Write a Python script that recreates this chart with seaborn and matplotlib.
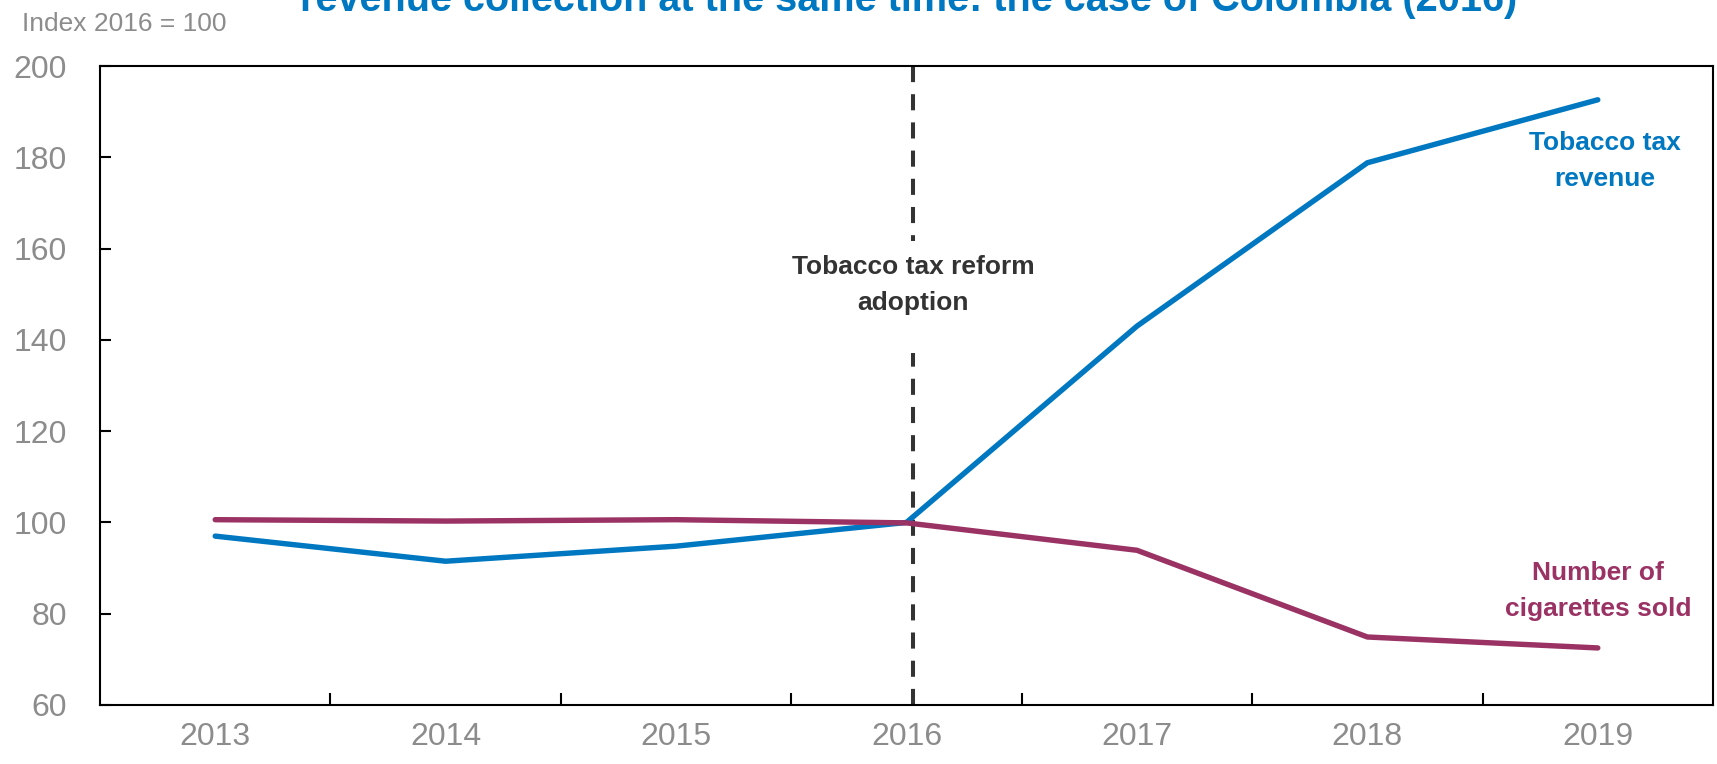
import matplotlib
matplotlib.use("Agg")
import matplotlib.pyplot as plt
import seaborn as sns
import pandas as pd
from matplotlib import font_manager

years = ["2013", "2014", "2015", "2016", "2017", "2018", "2019"]
tax_revenue = [97.0, 91.5, 94.8, 100.0, 143.0, 178.8, 192.6]
cigarettes_sold = [100.6, 100.3, 100.6, 99.9, 93.9, 74.9, 72.5]
series_names = ["Tobacco tax revenue", "Number of cigarettes sold"]
y_ticks = [60, 80, 100, 120, 140, 160, 180, 200]

BLUE = "#0078C1"
PURPLE = "#9A3264"
GRAY = "#8C8C8C"

sns.set_style("ticks")
names = {f.name for f in font_manager.fontManager.ttflist}
fam = ["Liberation Sans Narrow"] if "Liberation Sans Narrow" in names else []
plt.rcParams["font.family"] = fam + ["Liberation Sans", "DejaVu Sans"]

df = pd.DataFrame({
    "year": years * 2,
    "value": tax_revenue + cigarettes_sold,
    "series": [series_names[0]] * len(years) + [series_names[1]] * len(years),
})
df["x"] = df["year"].map({y: i for i, y in enumerate(years)})

fig = plt.figure(figsize=(17.17, 7.64), dpi=100)
ax = fig.add_axes([100 / 1717, 1 - 705 / 764, (1713 - 100) / 1717, (705 - 66) / 764])

sns.lineplot(data=df, x="x", y="value", hue="series", palette=[BLUE, PURPLE],
             linewidth=3.9, ax=ax, legend=False, sort=False)
for line in ax.get_lines():
    line.set_solid_capstyle("round")
    line.set_solid_joinstyle("round")

ax.set_xlim(-0.5, len(years) - 0.5)
ax.set_ylim(60, 200)
ax.set_yticks(y_ticks)
ax.set_yticklabels([str(v) for v in y_ticks])
ax.set_xticks([i + 0.5 for i in range(len(years) - 1)])
ax.set_xticklabels([])
ax.set_xticks(range(len(years)), minor=True)
ax.set_xticklabels(years, minor=True)
ax.tick_params(axis="x", which="major", direction="in", length=9, width=1.5, color="black")
ax.tick_params(axis="x", which="minor", length=0, pad=12, labelsize=23, labelcolor=GRAY)
ax.tick_params(axis="y", direction="in", length=8, width=1.5, color="black",
               labelsize=23, labelcolor=GRAY, pad=24)
for s in ax.spines.values():
    s.set_visible(True)
    s.set_linewidth(1.5)
    s.set_color("black")
ax.set_xlabel("")
ax.set_ylabel("")

# reform marker: dashed vertical line with a gap around the label
reform_x = 3.03
gap_low, gap_high = 137.1, 161.7
for y0, y1 in [(200, gap_high), (60, gap_low)]:
    ax.plot([reform_x, reform_x], [y0, y1], color="#333333", linestyle=(0, (4, 3)),
            linewidth=2.9, dash_capstyle="butt", zorder=1, clip_on=False)
ax.text(reform_x, 152.0, "Tobacco tax reform\nadoption", ha="center", va="center",
        fontsize=19, fontweight="bold", color="#333333", linespacing=1.63, zorder=2)

ax.text(6.03, 179.2, "Tobacco tax\nrevenue", ha="center", va="center",
        fontsize=19, fontweight="bold", color=BLUE, linespacing=1.63, zorder=3)
ax.text(6.0, 84.9, "Number of\ncigarettes sold", ha="center", va="center",
        fontsize=19, fontweight="bold", color=PURPLE, linespacing=1.63, zorder=3)

fig.text(22 / 1717, 1 - 24 / 764, "Index 2016 = 100", ha="left", va="center",
         fontsize=19, color=GRAY)
fig.text(909 / 1717, 1 - 11 / 764,
         "revenue collection at the same time: the case of Colombia (2016)",
         ha="center", va="baseline", fontsize=28.5, fontweight="bold", color=BLUE)

fig.savefig("out.png", dpi=100)
